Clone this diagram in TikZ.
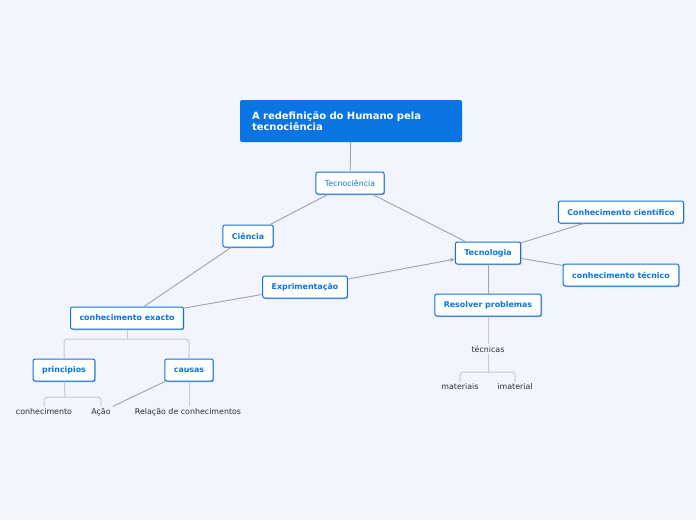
\documentclass[tikz,border=0pt]{standalone}
\usepackage{fontspec}
\setmainfont{DejaVu Sans}
\usetikzlibrary{arrows.meta,shadows}
\definecolor{mapbg}{HTML}{F2F5FE}
\definecolor{mapblue}{HTML}{0A74E3}
\definecolor{linkgray}{HTML}{9FA2AD}
\definecolor{branchgray}{HTML}{C6C9D2}
\definecolor{leafgray}{HTML}{2E2E2E}
\tikzset{
  topicbox/.style={draw=mapblue, line width=1pt, fill=white, rounded corners=2pt,
    text=mapblue, font=\bfseries\fontsize{7.9}{9}\selectfont, minimum height=22pt, inner xsep=9pt,
    drop shadow={shadow xshift=0.8pt, shadow yshift=-1pt, fill=black, opacity=0.3}},
  leaf/.style={text=leafgray, font=\fontsize{7.9}{9}\selectfont, inner sep=2pt},
  link/.style={draw=linkgray, line width=0.9pt},
  branch/.style={draw=branchgray, line width=1pt, rounded corners=3pt}
}
\begin{document}
\begin{tikzpicture}[x=1pt, y=-1pt]
  \fill[mapbg] (0,0) rectangle (696,520);
  % central topic
  \node[fill=mapblue, rounded corners=2pt, text=white, font=\bfseries\fontsize{10}{11.5}\selectfont,
    text width=198pt, align=left, minimum width=222pt, minimum height=42pt, inner xsep=12pt]
    (root) at (351,121) {A redefinição do Humano pela\\tecnociência};
  \node[topicbox, font=\fontsize{7.9}{9}\selectfont] (tecno) at (350,183) {Tecnociência};
  \node[topicbox] (ciencia) at (248,236) {Ciência};
  \node[topicbox] (tecnologia) at (488,253) {Tecnologia};
  \node[topicbox] (cientifico) at (621,212) {Conhecimento científico};
  \node[topicbox] (tecnico) at (621,275) {conhecimento técnico};
  \node[topicbox] (exprim) at (305,287) {Exprimentação};
  \node[topicbox] (resolver) at (488,305) {Resolver problemas};
  \node[topicbox] (exacto) at (127,318) {conhecimento exacto};
  \node[topicbox] (principios) at (64,370) {principios};
  \node[topicbox] (causas) at (189,370) {causas};
  % leaves
  \node[leaf] (conhec) at (44,412) {conhecimento};
  \node[leaf] (acao) at (101,412) {Ação};
  \node[leaf] (relacao) at (188,412) {Relação de conhecimentos};
  \node[leaf] (tecnicas) at (488,349) {técnicas};
  \node[leaf] (materiais) at (460,387) {materiais};
  \node[leaf] (imaterial) at (515,387) {imaterial};
  \coordinate (exactoj) at (127,339);
  \coordinate (principj) at (65,397);
  \coordinate (tecnicj) at (488,372);
  % relations
  \draw[link] (root) -- (tecno);
  \draw[link] (tecno) -- (ciencia);
  \draw[link] (tecno) -- (tecnologia);
  \draw[link] (ciencia) -- (exacto);
  \draw[link] (exacto) -- (exprim);
  \draw[link, -{Stealth[length=5pt, width=4pt]}] (exprim) -- (tecnologia);
  \draw[link] (tecnologia) -- (cientifico);
  \draw[link] (tecnologia) -- (tecnico);
  \draw[link] (tecnologia) -- (resolver);
  \draw[link] (causas) -- (acao);
  % sub-branches
  \draw[branch] (exacto) -- (exactoj);
  \draw[branch] (principios.north) -- (principios.north |- exactoj) -- (causas.north |- exactoj) -- (causas.north);
  \draw[branch] (principios) -- (principj);
  \draw[branch] (conhec.north) -- (conhec.north |- principj) -- (acao.north |- principj) -- (acao.north);
  \draw[branch] (causas) -- (causas |- relacao.north);
  \draw[branch] (resolver) -- (tecnicas);
  \draw[branch] (tecnicas) -- (tecnicj);
  \draw[branch] (materiais.north) -- (materiais.north |- tecnicj) -- (imaterial.north |- tecnicj) -- (imaterial.north);
\end{tikzpicture}
\end{document}
